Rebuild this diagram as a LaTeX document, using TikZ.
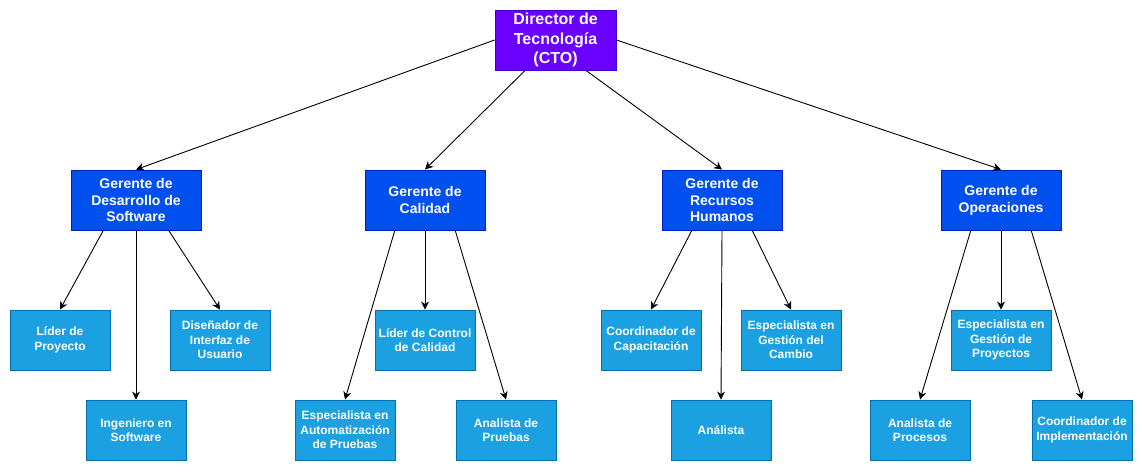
\documentclass[tikz,border=0pt]{standalone}
\usepackage{fontspec}
\setmainfont{Liberation Sans}
\usetikzlibrary{arrows.meta,calc}
\definecolor{ctofill}{HTML}{6A00FF}
\definecolor{ctodraw}{HTML}{3700CC}
\definecolor{mgrfill}{HTML}{0050EF}
\definecolor{mgrdraw}{HTML}{001DBC}
\definecolor{leaffill}{HTML}{1BA1E2}
\definecolor{leafdraw}{HTML}{006EAF}
\begin{document}
\begin{tikzpicture}[x=1pt,y=-1pt,
  box/.style={draw, line width=0.9pt, text=white, align=center, inner sep=0pt, minimum height=60pt},
  ctobox/.style={box, fill=ctofill, draw=ctodraw, minimum width=121pt, font=\fontsize{16}{19.2}\selectfont\bfseries},
  mgr/.style={box, fill=mgrfill, draw=mgrdraw, minimum width=120pt, font=\fontsize{14}{16.8}\selectfont\bfseries},
  leaf/.style={box, fill=leaffill, draw=leafdraw, minimum width=100pt, font=\fontsize{12}{14.4}\selectfont\bfseries},
  conn/.style={-{Stealth[length=8pt,width=8pt,inset=2.5pt]}, line width=0.9pt, black}
]
\useasboundingbox[fill=white] (0,0) rectangle (1142,472);

\node[ctobox] (cto) at (555.5,40) {Director de\\Tecnología\\(CTO)};

\node[mgr, minimum width=130pt] (dev) at (136,200) {Gerente de\\Desarrollo de\\Software};
\node[mgr] (cal) at (425,200) {Gerente de\\Calidad};
\node[mgr] (rh) at (722,200) {Gerente de\\Recursos\\Humanos};
\node[mgr] (ops) at (1001,200) {Gerente de\\Operaciones};

\node[leaf] (lp) at (60,340) {Líder de\\Proyecto};
\node[leaf] (di) at (220,340) {Diseñador de\\Interfaz de\\Usuario};
\node[leaf] (is) at (136,430) {Ingeniero en\\Software};

\node[leaf] (lc) at (425,340) {Líder de Control\\de Calidad};
\node[leaf] (ea) at (345,430) {Especialista en\\Automatización\\de Pruebas};
\node[leaf] (ap) at (506,430) {Analista de\\Pruebas};

\node[leaf] (cc) at (651,340) {Coordinador de\\Capacitación};
\node[leaf] (eg) at (791,340) {Especialista en\\Gestión del\\Cambio};
\node[leaf] (an) at (721,430) {Análista};

\node[leaf] (ep) at (1001,340) {Especialista en\\Gestión de\\Proyectos};
\node[leaf] (apr) at (920,430) {Analista de\\Procesos};
\node[leaf] (ci) at (1082,430) {Coordinador de\\Implementación};

% CTO to managers
\draw[conn] (cto.west) -- (dev.north);
\draw[conn] ($(cto.south west)!0.25!(cto.south east)$) -- (cal.north);
\draw[conn] ($(cto.south west)!0.75!(cto.south east)$) -- (rh.north);
\draw[conn] (cto.east) -- (ops.north);

% managers to leaves
\foreach \m/\l/\c/\r in {dev/lp/is/di, cal/ea/lc/ap, rh/cc/an/eg, ops/apr/ep/ci}{
  \draw[conn] ($(\m.south west)!0.25!(\m.south east)$) -- (\l.north);
  \draw[conn] (\m.south) -- (\c.north);
  \draw[conn] ($(\m.south west)!0.75!(\m.south east)$) -- (\r.north);
}
\end{tikzpicture}
\end{document}
